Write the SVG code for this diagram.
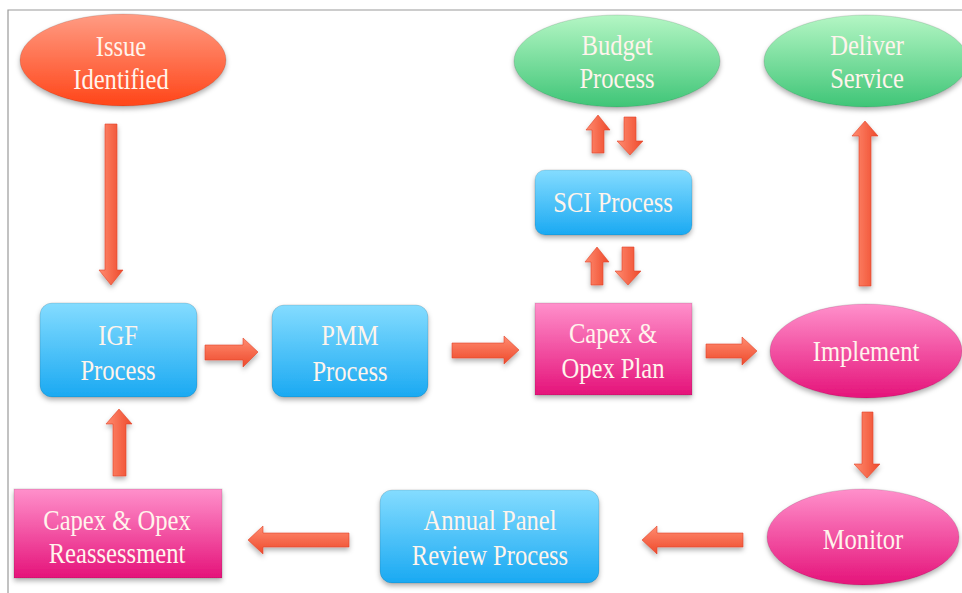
<svg xmlns="http://www.w3.org/2000/svg" width="962" height="593" viewBox="0 0 962 593">
<defs>
<linearGradient id="gRed" x1="0" y1="0" x2="0" y2="1"><stop offset="0" stop-color="#ff9c84"/><stop offset="1" stop-color="#ff4518"/></linearGradient>
<linearGradient id="gGreen" x1="0" y1="0" x2="0" y2="1"><stop offset="0" stop-color="#b4f6c4"/><stop offset="1" stop-color="#3fc577"/></linearGradient>
<linearGradient id="gBlue" x1="0" y1="0" x2="0" y2="1"><stop offset="0" stop-color="#84dcff"/><stop offset="1" stop-color="#1aa9f2"/></linearGradient>
<linearGradient id="gPink" x1="0" y1="0" x2="0" y2="1"><stop offset="0" stop-color="#ff90cb"/><stop offset="1" stop-color="#e5137a"/></linearGradient>
<linearGradient id="gArrH" x1="0" y1="0" x2="0" y2="1"><stop offset="0" stop-color="#ff8b70"/><stop offset="1" stop-color="#ee4a2c"/></linearGradient>
<linearGradient id="gArrV" x1="0" y1="0" x2="1" y2="0"><stop offset="0" stop-color="#ff8b70"/><stop offset="1" stop-color="#ee4a2c"/></linearGradient>
<filter id="sh" x="-20%" y="-20%" width="140%" height="150%"><feDropShadow dx="0" dy="3" stdDeviation="2.5" flood-color="#000" flood-opacity="0.3"/></filter>
</defs>
<style>
.t{font-family:"Liberation Serif","Times New Roman",serif;font-size:30px;fill:#fff4ec;text-anchor:middle}
.nd{stroke:rgba(0,0,0,0.12);stroke-width:1;filter:url(#sh)}
.ah{fill:url(#gArrH);stroke:#e0452a;stroke-width:0.6;filter:url(#sh)}
.av{fill:url(#gArrV);stroke:#e0452a;stroke-width:0.6;filter:url(#sh)}
</style>
<rect width="962" height="593" fill="#ffffff"/>
<path d="M8 593 V10 H962" fill="none" stroke="#9a9a9a" stroke-width="1.2"/>

<g id="connectors">
<!-- Issue -> IGF (down) -->
<polygon class="av" points="105,124 117,124 117,270 123,270 111,285 99,270 105,270"/>
<!-- IGF -> PMM -->
<polygon class="ah" points="205,345 243,345 243,338 258,352 243,367 243,360 205,360"/>
<!-- PMM -> Capex -->
<polygon class="ah" points="452,343 504,343 504,336 519,350 504,364 504,358 452,358"/>
<!-- Capex -> Implement -->
<polygon class="ah" points="706,344 742,344 742,337 757,351 742,365 742,358 706,358"/>
<!-- Implement -> Monitor (down) -->
<polygon class="av" points="862,412 873,412 873,464 880,464 867,478 854,464 862,464"/>
<!-- Monitor -> Annual (left) -->
<polygon class="ah" points="743,533 657,533 657,526 642,540 657,554 657,547 743,547"/>
<!-- Annual -> Reassessment (left) -->
<polygon class="ah" points="349,533 263,533 263,526 248,540 263,554 263,547 349,547"/>
<!-- Reassessment -> IGF (up) -->
<polygon class="av" points="113,476 126,476 126,424 132,424 119,409 106,424 113,424"/>
<!-- Implement -> Deliver (up) -->
<polygon class="av" points="859,286 871,286 871,136 878,136 865,121 852,136 859,136"/>
<!-- SCI -> Budget (up) -->
<polygon class="av" points="592,153 604,153 604,130 610,130 598,115 586,130 592,130"/>
<!-- Budget -> SCI (down) -->
<polygon class="av" points="624,117 636,117 636,141 643,141 630,155 617,141 624,141"/>
<!-- Capex -> SCI (up) -->
<polygon class="av" points="591,285 603,285 603,262 609,262 597,247 585,262 591,262"/>
<!-- SCI -> Capex (down) -->
<polygon class="av" points="622,247 634,247 634,271 641,271 628,285 615,271 622,271"/>
</g>

<g id="issue">
<ellipse class="nd" cx="123" cy="60" rx="103" ry="46" fill="url(#gRed)"/>
<g transform="translate(121,0) scale(0.82,1)"><text class="t" x="0" y="56">Issue</text><text class="t" x="0" y="89">Identified</text></g>
</g>
<g id="budget">
<ellipse class="nd" cx="617" cy="61" rx="103" ry="46" fill="url(#gGreen)"/>
<g transform="translate(617,0) scale(0.82,1)"><text class="t" x="0" y="55">Budget</text><text class="t" x="0" y="88">Process</text></g>
</g>
<g id="deliver">
<ellipse class="nd" cx="866" cy="61" rx="102" ry="46" fill="url(#gGreen)"/>
<g transform="translate(867,0) scale(0.82,1)"><text class="t" x="0" y="55">Deliver</text><text class="t" x="0" y="88">Service</text></g>
</g>
<g id="sci">
<rect class="nd" x="535" y="170" width="157" height="65" rx="10" fill="url(#gBlue)"/>
<g transform="translate(613,0) scale(0.82,1)"><text class="t" x="0" y="212">SCI Process</text></g>
</g>
<g id="igf">
<rect class="nd" x="40" y="303" width="157" height="94" rx="12" fill="url(#gBlue)"/>
<g transform="translate(118,0) scale(0.82,1)"><text class="t" x="0" y="345">IGF</text><text class="t" x="0" y="380">Process</text></g>
</g>
<g id="pmm">
<rect class="nd" x="272" y="305" width="156" height="92" rx="12" fill="url(#gBlue)"/>
<g transform="translate(350,0) scale(0.82,1)"><text class="t" x="0" y="345">PMM</text><text class="t" x="0" y="381">Process</text></g>
</g>
<g id="capex-plan">
<rect class="nd" x="535" y="303" width="157" height="92" fill="url(#gPink)"/>
<g transform="translate(613,0) scale(0.82,1)"><text class="t" x="0" y="343">Capex &amp;</text><text class="t" x="0" y="378">Opex Plan</text></g>
</g>
<g id="implement">
<ellipse class="nd" cx="866" cy="351" rx="96" ry="47" fill="url(#gPink)"/>
<g transform="translate(866,0) scale(0.82,1)"><text class="t" x="0" y="361">Implement</text></g>
</g>
<g id="monitor">
<ellipse class="nd" cx="863" cy="537" rx="96" ry="48" fill="url(#gPink)"/>
<g transform="translate(863,0) scale(0.82,1)"><text class="t" x="0" y="549">Monitor</text></g>
</g>
<g id="annual">
<rect class="nd" x="380" y="490" width="219" height="93" rx="12" fill="url(#gBlue)"/>
<g transform="translate(490,0) scale(0.82,1)"><text class="t" x="0" y="530">Annual Panel</text><text class="t" x="0" y="565">Review Process</text></g>
</g>
<g id="reassessment">
<rect class="nd" x="14" y="489" width="208" height="89" fill="url(#gPink)"/>
<g transform="translate(117,0) scale(0.82,1)"><text class="t" x="0" y="530">Capex &amp; Opex</text><text class="t" x="0" y="563">Reassessment</text></g>
</g>
</svg>
